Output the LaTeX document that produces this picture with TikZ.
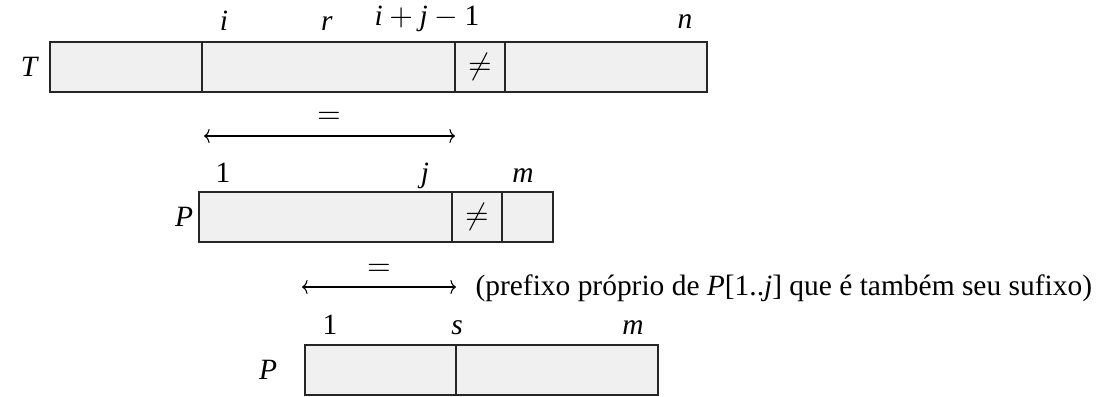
\documentclass[tikz,border=0pt]{standalone}
\usepackage{fontspec}
\setmainfont{Liberation Serif}
\usetikzlibrary{arrows.meta}
\definecolor{cellgray}{HTML}{F0F0F0}
\begin{document}
\begin{tikzpicture}[x=0.36pt,y=-0.36pt,
	every node/.style={font=\fontsize{10.6pt}{13pt}\selectfont},
	cell/.style={draw=black!85,fill=cellgray,line width=0.45pt},
	lbl/.style={anchor=base,inner sep=0pt},
	eqarrow/.style={{To[length=2pt,width=5pt]}-{To[length=2pt,width=5pt]},line width=0.4pt}]
	\useasboundingbox (0,0) rectangle (1097,396);
	% Row 1: text T
	\draw[cell] (50,42) rectangle (707,92);
	\draw[cell] (202,42) -- (202,92) (455,42) -- (455,92) (505,42) -- (505,92);
	\node (tname) at (30,67) {\textit{T}};
	\node[lbl] (ti) at (224,30) {\textit{i}};
	\node[lbl] (tr) at (327,30) {\textit{r}};
	\node[lbl] (tij) at (427,25) {\textit{i}\:$+$\:\textit{j}\:$-$\:1};
	\node[lbl] (tn) at (685,28) {\textit{n}};
	\node (tneq) at (480,67) {$\neq$};
	% first equality
	\coordinate (e1l) at (204,136);
	\coordinate (e1r) at (455,136);
	\draw[eqarrow] (e1l) -- (e1r);
	\node (e1) at (329,118) {$=$};
	% Row 2: pattern P
	\draw[cell] (199,192) rectangle (553,242);
	\draw[cell] (452,192) -- (452,242) (502,192) -- (502,242);
	\node (pname) at (184,217) {\textit{P}};
	\node[lbl] (p1) at (223,182) {1};
	\node[lbl] (pj) at (425,182) {\textit{j}};
	\node[lbl] (pm) at (523,182) {\textit{m}};
	\node (pneq) at (477,217) {$\neq$};
	% second equality
	\coordinate (e2l) at (302,287);
	\coordinate (e2r) at (456,287);
	\draw[eqarrow] (e2l) -- (e2r);
	\node (e2) at (379,270) {$=$};
	\node[anchor=base west,inner sep=0pt] (note) at (475,295)
		{(prefixo próprio de \textit{P}[1..\textit{j}] que é também seu sufixo)};
	% Row 3: shifted pattern P
	\draw[cell] (305,345) rectangle (658,395);
	\draw[cell] (456,345) -- (456,395);
	\node (qname) at (268,370) {\textit{P}};
	\node[lbl] (q1) at (330,334) {1};
	\node[lbl] (qs) at (457,334) {\textit{s}};
	\node[lbl] (qm) at (633,334) {\textit{m}};
\end{tikzpicture}
\end{document}
